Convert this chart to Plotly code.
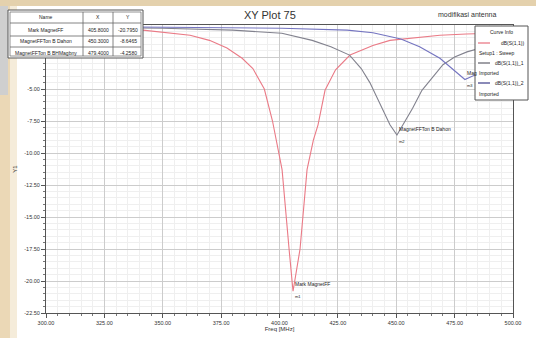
import plotly.graph_objects as go

# ---------------- data ----------------
freq_s11 = [300, 320, 341.5, 361.7, 370, 377.5, 384, 388.6, 393.5, 397, 401.1, 404.1, 405.8,
            408.8, 411.8, 414.5, 416.5, 419.5, 424, 430.2, 440, 447.3, 460, 468.7, 480, 500]
db_s11 = [-0.25, -0.3, -0.4, -0.8, -1.2, -1.8, -2.6, -3.4, -5.0, -7.5, -11.3, -17.5, -20.8,
          -17.5, -11.3, -9.0, -7.8, -5.1, -3.5, -2.35, -1.6, -1.2, -0.95, -0.8, -0.7, -0.6]

freq_s11_1 = [300, 350, 380, 401, 414, 422, 430, 435, 438.7, 442.2, 445, 447.3, 450.3,
              453.5, 457, 461, 465, 470, 475, 480.3, 490, 500]
db_s11_1 = [-0.15, -0.25, -0.4, -0.65, -1.2, -1.7, -2.35, -3.4, -4.5, -5.9, -7.0, -7.8, -8.6,
            -7.6, -6.5, -5.1, -4.2, -3.1, -2.5, -2.1, -1.6, -1.3]

freq_s11_2 = [300, 350, 401, 429, 440, 452, 460, 468.7, 476, 479.4, 485, 490, 500]
db_s11_2 = [-0.1, -0.15, -0.25, -0.4, -0.6, -1.1, -1.7, -2.6, -3.7, -4.26, -3.8, -3.0, -2.0]

series_names = ["dB(S(1,1))", "dB(S(1,1))_1", "dB(S(1,1))_2"]
series_sources = ["Setup1 : Sweep", "Imported", "Imported"]

x_ticks = [300, 325, 350, 375, 400, 425, 450, 475, 500]
y_ticks = [-22.5, -20, -17.5, -15, -12.5, -10, -7.5, -5, -2.5, 0]

marker_names = ["Mark MagnetFF", "MagnetFFTon B Dahon", "MagnetFFTon B BHMagbny"]
marker_x = [405.8, 450.3, 479.4]
marker_y = [-20.795, -8.6465, -4.258]
marker_labels = ["m1", "m2", "m3"]
marker_visible_text = ["Mark MagnetFF", "MagnetFFTon B Dahon", "Mag"]  # third is cut by the legend box

# ---------------- layout helpers ----------------
W, H = 536, 338
L, R, T, B = 46, 513, 25, 313


def px(x):
    return (x - L) / (R - L)


def py(y):
    return (B - y) / (B - T)


FONT = "Liberation Sans, Arial, sans-serif"
colors = ["#ea7a86", "#82828e", "#7474c0"]
legend_line_colors = ["#e8707c", "#60606a", "#3c3c88"]

fig = go.Figure()
for fx, fy, nm, src, c in zip([freq_s11, freq_s11_1, freq_s11_2], [db_s11, db_s11_1, db_s11_2],
                              series_names, series_sources, colors):
    fig.add_trace(go.Scatter(x=fx, y=fy, mode="lines", name=f"{nm} {src}",
                             line=dict(color=c, width=1.1), showlegend=False))

shapes = []
# slide-like beige frame around the chart
shapes.append(dict(type="rect", xref="paper", yref="paper", x0=px(0), x1=px(W), y0=py(6), y1=py(0),
                   fillcolor="#e4d1ad", line=dict(width=0), layer="below"))
shapes.append(dict(type="rect", xref="paper", yref="paper", x0=px(0), x1=px(10), y0=py(H), y1=py(6),
                   fillcolor="#ebd8b6", line=dict(width=0), layer="below"))
shapes.append(dict(type="rect", xref="paper", yref="paper", x0=px(10), x1=px(17), y0=py(H), y1=py(6),
                   fillcolor="#f5ecda", line=dict(width=0), layer="below"))
shapes.append(dict(type="rect", xref="paper", yref="paper", x0=px(0), x1=px(8), y0=py(95), y1=py(6),
                   fillcolor="#cfcfcf", line=dict(width=0), layer="below"))

# marker table (drawn on top of the axis)
tx0, tx1, ty0, ty1 = 8, 143, 10, 58
col_x = [tx0, 83, 113, tx1]
row_y = [ty0, 23, 36, 47, ty1]
shapes.append(dict(type="rect", xref="paper", yref="paper", x0=px(tx0), x1=px(tx1), y0=py(ty1), y1=py(ty0),
                   fillcolor="white", line=dict(color="#555", width=1), layer="above"))
shapes.append(dict(type="rect", xref="paper", yref="paper", x0=px(tx0 + 2), x1=px(tx1 - 2), y0=py(ty1 - 2),
                   y1=py(ty0 + 2), line=dict(color="#777", width=0.8), layer="above"))
for cx in col_x[1:-1]:
    shapes.append(dict(type="line", xref="paper", yref="paper", x0=px(cx), x1=px(cx), y0=py(ty1 - 2),
                       y1=py(ty0 + 2), line=dict(color="#666", width=0.8), layer="above"))
for ry in row_y[1:-1]:
    shapes.append(dict(type="line", xref="paper", yref="paper", x0=px(tx0 + 2), x1=px(tx1 - 2), y0=py(ry),
                       y1=py(ry), line=dict(color="#666", width=0.8), layer="above"))

annotations = []
table_rows = [["Name", "X", "Y"]] + [[n, f"{x:.4f}", f"{y:.4f}"] for n, x, y in zip(marker_names, marker_x, marker_y)]
for r_i, row in enumerate(table_rows):
    yc = (row_y[r_i] + row_y[r_i + 1]) / 2
    for c_i, txt in enumerate(row):
        xc = (col_x[c_i] + col_x[c_i + 1]) / 2
        annotations.append(dict(xref="paper", yref="paper", x=px(xc), y=py(yc), text=txt, showarrow=False,
                                font=dict(family=FONT, size=5, color="#222"), xanchor="center", yanchor="middle"))

# marker labels on the curves
for nm, mx, my, ml in zip(marker_visible_text, marker_x, marker_y, marker_labels):
    annotations.append(dict(x=mx, y=my, text=nm, showarrow=False, xanchor="left", yanchor="bottom",
                            xshift=0, yshift=2, font=dict(family=FONT, size=5, color="#222")))
    annotations.append(dict(x=mx, y=my, text=ml, showarrow=False, xanchor="left", yanchor="top",
                            xshift=0, yshift=-1, font=dict(family=FONT, size=4, color="#222")))

# "Curve Info" legend box
lx0, lx1, ly0, ly1 = 475, 528, 26, 100
shapes.append(dict(type="rect", xref="paper", yref="paper", x0=px(lx0), x1=px(lx1), y0=py(ly1), y1=py(ly0),
                   fillcolor="white", line=dict(color="#555", width=1), layer="above"))
annotations.append(dict(xref="paper", yref="paper", x=px((lx0 + lx1) / 2), y=py(32), text="Curve Info",
                        showarrow=False, font=dict(family=FONT, size=5, color="#222"),
                        xanchor="center", yanchor="middle"))
entry_y = [43, 63, 83]
source_y = [53, 73, 94]
for nm, src, lc, ey, sy in zip(series_names, series_sources, legend_line_colors, entry_y, source_y):
    shapes.append(dict(type="line", xref="paper", yref="paper", x0=px(478), x1=px(490), y0=py(ey), y1=py(ey),
                       line=dict(color=lc, width=1.2), layer="above"))
    annotations.append(dict(xref="paper", yref="paper", x=px(526), y=py(ey), text=nm, showarrow=False,
                            font=dict(family=FONT, size=5, color="#222"), xanchor="right", yanchor="middle"))
    annotations.append(dict(xref="paper", yref="paper", x=px(477), y=py(sy), text=src, showarrow=False,
                            font=dict(family=FONT, size=5, color="#222"), xanchor="left", yanchor="middle"))

# title & project name
annotations.append(dict(xref="paper", yref="paper", x=px(270), y=py(15), text="XY Plot 75", showarrow=False,
                        font=dict(family=FONT, size=11, color="#333"), xanchor="center", yanchor="middle"))
annotations.append(dict(xref="paper", yref="paper", x=px(498), y=py(15), text="modifikasi antenna",
                        showarrow=False, font=dict(family=FONT, size=7, color="#333"), xanchor="right",
                        yanchor="middle"))

ytick_text = [f"{v:.2f}" if v <= -5 else "" for v in y_ticks]

fig.update_layout(
    width=W, height=H,
    margin=dict(l=L, r=W - R, t=T, b=H - B, autoexpand=False),
    paper_bgcolor="white", plot_bgcolor="white",
    font=dict(family=FONT, size=6, color="#333"),
    showlegend=False,
    shapes=shapes, annotations=annotations,
    xaxis=dict(range=[300, 500], tickvals=x_ticks, ticktext=[f"{v:.2f}" for v in x_ticks],
               showgrid=True, gridcolor="#cccccc", gridwidth=0.8, zeroline=False,
               showline=True, linecolor="#555", linewidth=1, mirror=True,
               ticks="outside", ticklen=4, tickcolor="#555",
               minor=dict(dtick=5, showgrid=True, gridcolor="#efefef", gridwidth=0.6,
                          ticks="outside", ticklen=2, tickcolor="#777"),
               title=dict(text="Freq [MHz]", font=dict(family=FONT, size=6), standoff=2),
               tickfont=dict(family=FONT, size=5.5, color="#333")),
    yaxis=dict(range=[-22.5, 0], tickvals=y_ticks, ticktext=ytick_text,
               showgrid=True, gridcolor="#cccccc", gridwidth=0.8, zeroline=False,
               showline=True, linecolor="#555", linewidth=1, mirror=True,
               ticks="outside", ticklen=4, tickcolor="#555",
               minor=dict(dtick=0.5, showgrid=True, gridcolor="#efefef", gridwidth=0.6,
                          ticks="outside", ticklen=2, tickcolor="#777"),
               title=dict(text="Y1", font=dict(family=FONT, size=6), standoff=6),
               tickfont=dict(family=FONT, size=5.5, color="#333")),
)

fig.write_html("out.html", config={"displayModeBar": False},
               post_script="document.body.style.margin='0px';")
